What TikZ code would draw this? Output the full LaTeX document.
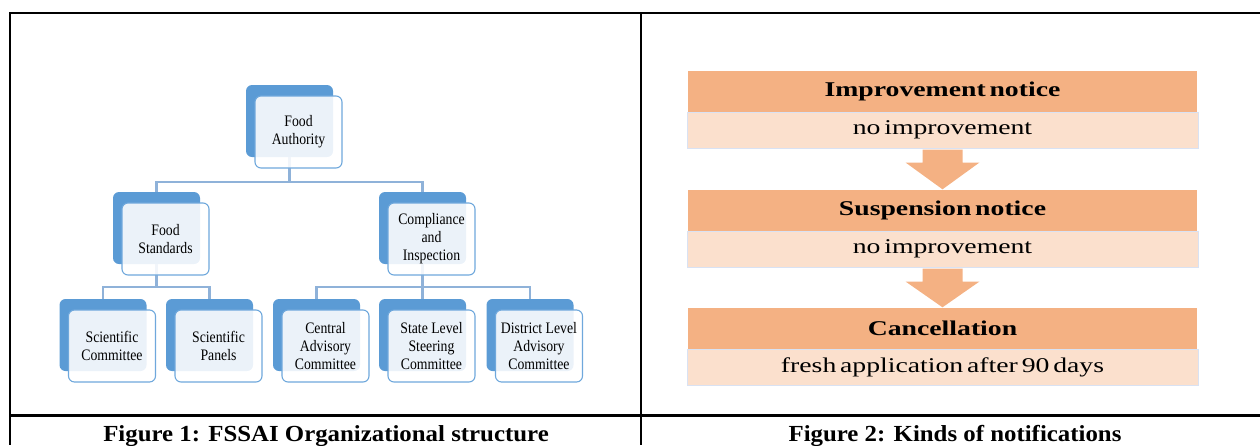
\documentclass[tikz,border=0pt]{standalone}
\usepackage{fontspec}
\setmainfont{Liberation Serif}
\newfontfamily\orgfont[FakeStretch=0.86]{Liberation Serif}
\newfontfamily\notefont[FakeStretch=1.32,WordSpace=0.55]{Liberation Serif}
\newfontfamily\capfont[FakeStretch=1.08]{Liberation Serif}
\usetikzlibrary{calc}

\definecolor{unitblue}{HTML}{5B9BD5}
\definecolor{unitedge}{HTML}{6FA8DC}
\definecolor{linkblue}{HTML}{8FB2D9}
\definecolor{noticeorange}{HTML}{F4B183}
\definecolor{noticepeach}{HTML}{FBE0CD}
\definecolor{peachedge}{HTML}{D9E2F3}

% back tile of an organisational unit
\newcommand\unitback[3]{\node[unitback] (#1b) at (#2,#3) {};}
% front card of an organisational unit, shifted from its back tile
\newcommand\unitcard[2]{\node[unitfront] (#1) at ($(#1b)+(9,11)$) {#2};}
% block arrow between two notice stages
\newcommand\noticearrow[2]{%
  \fill[noticeorange] ($(#1.south)+(-20,1)$) -- ($(#1.south)+(20,1)$)
    -- ($(#1.south)+(20,14)$) -- ($(#1.south)+(37,14)$) -- (#2.north)
    -- ($(#1.south)+(-37,14)$) -- ($(#1.south)+(-20,14)$) -- cycle;}

\begin{document}
\begin{tikzpicture}[x=1pt,y=-1pt,
  unitback/.style={fill=unitblue, draw=none, rounded corners=6pt,
    minimum width=87pt, minimum height=72pt, inner sep=0pt},
  unitfront/.style={fill=white, fill opacity=0.88, text opacity=1,
    draw=unitedge, line width=1.1pt, rounded corners=6pt,
    minimum width=87pt, minimum height=72pt, inner sep=0pt, align=center,
    font=\orgfont\fontsize{16}{18}\selectfont},
  link/.style={draw=linkblue, line width=2.3pt},
  headbox/.style={fill=noticeorange, draw=none, inner sep=0pt,
    minimum width=509pt, minimum height=41pt,
    font=\notefont\bfseries\fontsize{21}{24}\selectfont},
  subbox/.style={fill=noticepeach, draw=peachedge, line width=1pt, inner sep=0pt,
    minimum width=511pt, minimum height=36pt,
    font=\notefont\fontsize{21}{24}\selectfont},
  frame/.style={draw=black, line width=2.3pt},
  caption/.style={anchor=base, font=\capfont\bfseries\fontsize{23}{26}\selectfont}
]
\useasboundingbox (0,0) rectangle (1260,445);

% ---------- table frame ----------
\draw[frame] (1260,13) -- (10,13) -- (10,445);
\draw[frame] (641,13) -- (641,445);
\draw[frame] (10,415.5) -- (1260,415.5);

% ---------- organisational chart: back tiles ----------
\unitback{fa}{289.5}{121}
\unitback{fs}{156.5}{228}
\unitback{ci}{422.5}{228}
\unitback{sc}{103}{335}
\unitback{sp}{209.5}{335}
\unitback{ca}{316.5}{335}
\unitback{sl}{422.5}{335}
\unitback{dl}{530}{335}

% ---------- connectors ----------
\coordinate (faj) at ($(fab.south)+(0,25)$);
\coordinate (fsj) at ($(fsb.south)+(0,23)$);
\coordinate (cij) at ($(cib.south)+(0,23)$);
\draw[link] (fab.south) -- (faj) -| (fsb.north);
\draw[link] (faj) -| (cib.north);
\draw[link] (fsb.south) -- (fsj) -| (scb.north);
\draw[link] (fsj) -| (spb.north);
\draw[link] (cib.south) -- (cij) -| (cab.north);
\draw[link] (cij) -- (slb.north);
\draw[link] (cij) -| (dlb.north);

% ---------- organisational chart: front cards ----------
\unitcard{fa}{Food\\Authority}
\unitcard{fs}{Food\\Standards}
\unitcard{ci}{Compliance\\and\\Inspection}
\unitcard{sc}{Scientific\\Committee}
\unitcard{sp}{Scientific\\Panels}
\unitcard{ca}{Central\\Advisory\\Committee}
\unitcard{sl}{State Level\\Steering\\Committee}
\unitcard{dl}{District Level\\Advisory\\Committee}

% ---------- notification stages ----------
\node[headbox] (h1) at (942.5,91.5) {Improvement notice};
\node[subbox]  (s1) at (942.5,130) {no improvement};
\node[headbox] (h2) at (942.5,210) {Suspension notice};
\node[subbox]  (s2) at (942.5,249) {no improvement};
\node[headbox] (h3) at (942.5,328) {Cancellation};
\node[subbox]  (s3) at (942.5,367.5) {fresh application after 90 days};
\noticearrow{s1}{h2}
\noticearrow{s2}{h3}

% ---------- captions ----------
\node[caption] (cap1) at (326,441) {Figure 1: FSSAI Organizational structure};
\node[caption] (cap2) at (955,441) {Figure 2: Kinds of notifications};
\end{tikzpicture}
\end{document}
